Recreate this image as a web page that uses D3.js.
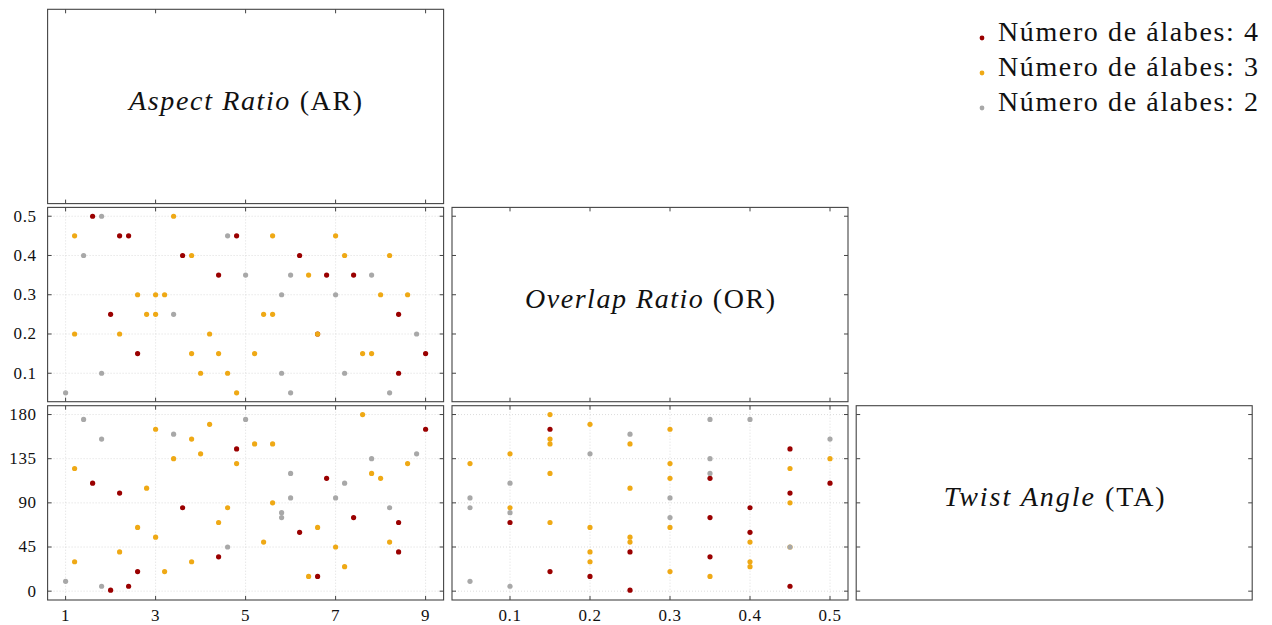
<!DOCTYPE html>
<html>
<head>
<meta charset="utf-8">
<script src="https://cdn.jsdelivr.net/npm/d3@7"></script>
<style>
  html, body { margin:0; padding:0; background:#fff; }
  svg text { font-family:"Liberation Serif", "DejaVu Serif", "Times New Roman", serif; fill:#111; }
</style>
</head>
<body>
<div id="chart"></div>
<script>
// samples as [AR, OR, TA], one list per blade count
const blades4 = [
  [4.8,0.45,145],[1.6,0.50,110],[2.2,0.45,100],[3.6,0.40,85],[4.4,0.35,35],
  [2.6,0.15,20],[2.4,0.45,5],[2.0,0.25,1],[9.0,0.15,165],[6.8,0.35,115],
  [7.4,0.35,75],[8.4,0.10,70],[6.2,0.40,60],[8.4,0.25,40],[6.6,0.20,15]
];
const blades3 = [
  [3.0,0.30,165],[4.2,0.20,170],[3.8,0.15,155],[4.0,0.10,140],[3.4,0.50,135],
  [4.8,0.05,130],[1.2,0.45,125],[2.8,0.25,105],[4.6,0.10,85],[4.4,0.15,70],
  [2.6,0.30,65],[3.0,0.25,55],[2.2,0.20,40],[1.2,0.20,30],[3.8,0.40,30],
  [3.2,0.30,20],[7.6,0.15,180],[5.2,0.15,150],[5.6,0.25,150],[8.6,0.30,130],
  [7.8,0.15,120],[8.0,0.30,115],[5.6,0.45,90],[6.6,0.20,65],[5.4,0.25,50],
  [8.2,0.40,50],[7.0,0.45,45],[7.2,0.40,25],[6.4,0.35,15]
];
const blades2 = [
  [1.4,0.40,175],[1.8,0.50,155],[3.4,0.25,160],[5.0,0.35,175],[4.6,0.45,45],
  [1.0,0.05,10],[1.8,0.10,5],[8.8,0.20,140],[7.8,0.35,135],[6.0,0.35,120],
  [7.2,0.10,110],[6.0,0.05,95],[7.0,0.30,95],[8.2,0.05,85],[5.8,0.10,80],
  [5.8,0.30,75]
];

const groups = [
  { label:"Número de álabes: 4", color:"#9a0000", data:blades4 },
  { label:"Número de álabes: 3", color:"#efa915", data:blades3 },
  { label:"Número de álabes: 2", color:"#a8a8a8", data:blades2 },
];

const varNames   = ["Aspect Ratio", "Overlap Ratio", "Twist Angle"];
const varAbbr    = ["AR", "OR", "TA"];
const varExtent  = [[1, 9], [0.05, 0.5], [0, 180]];
const varTicks   = [[1,3,5,7,9], [0.1,0.2,0.3,0.4,0.5], [0,45,90,135,180]];

const W = 1272, H = 625;
const pw = 396, ph = 194.3;
const colX = [47.6, 452, 856.2];
const rowY = [9.3, 207.4, 405.7];
const tickLen = 4;
const BORDER = "#444";
// rendered widths of the diagonal titles and legend lines in the figure
const titleLen  = [233, 250, 221];
const legendLen = 260;

const svg = d3.select("#chart").append("svg")
  .attr("width", W).attr("height", H);

// padded scales, 5% on each side
function padded(ext) {
  const p = (ext[1] - ext[0]) * 0.05;
  return [ext[0] - p, ext[1] + p];
}
const xScales = varExtent.map(e => d3.scaleLinear().domain(padded(e)).range([0, pw]));
const yScales = varExtent.map(e => d3.scaleLinear().domain(padded(e)).range([ph, 0]));

const fmt = v => (Number.isInteger(v) ? d3.format("d")(v) : d3.format(".1f")(v));

// stretch spacing only if the installed font runs narrower than the target
function fitWidth(sel, target) {
  const n = sel.node();
  if (n.getComputedTextLength() < target)
    sel.attr("textLength", target).attr("lengthAdjust", "spacing");
}

function drawPanel(row, col) {
  const g = svg.append("g")
    .attr("transform", `translate(${colX[col]},${rowY[row]})`);
  const xs = xScales[col], ys = yScales[row];
  const scatter = row > col;
  const showX = col < 2;          // column has an x axis
  const showY = row > 0;          // row has a y axis

  if (scatter) {
    // dotted grid
    g.append("g").selectAll("line")
      .data(varTicks[col]).enter().append("line")
      .attr("x1", d => xs(d)).attr("x2", d => xs(d))
      .attr("y1", 0).attr("y2", ph)
      .attr("stroke", "#d4d4d4").attr("stroke-width", 0.8)
      .attr("stroke-dasharray", "1,2");
    g.append("g").selectAll("line")
      .data(varTicks[row]).enter().append("line")
      .attr("x1", 0).attr("x2", pw)
      .attr("y1", d => ys(d)).attr("y2", d => ys(d))
      .attr("stroke", "#d4d4d4").attr("stroke-width", 0.8)
      .attr("stroke-dasharray", "1,2");

    groups.forEach(grp => {
      g.append("g").selectAll("circle")
        .data(grp.data).enter().append("circle")
        .attr("cx", d => xs(d[col]))
        .attr("cy", d => ys(d[row]))
        .attr("r", 2.6)
        .attr("fill", grp.color);
    });
  } else {
    const t = g.append("text")
      .attr("x", pw / 2).attr("y", ph / 2 + 3.5)
      .attr("text-anchor", "middle")
      .style("font-size", "28px");
    t.append("tspan").style("font-style", "italic").text(varNames[col]);
    t.append("tspan").text(` (${varAbbr[col]})`);
    fitWidth(t, titleLen[col]);
  }

  // inward ticks
  if (showX) {
    varTicks[col].forEach(v => {
      g.append("line").attr("x1", xs(v)).attr("x2", xs(v))
        .attr("y1", 0).attr("y2", tickLen).attr("stroke", BORDER);
      g.append("line").attr("x1", xs(v)).attr("x2", xs(v))
        .attr("y1", ph).attr("y2", ph - tickLen).attr("stroke", BORDER);
    });
  }
  if (showY) {
    varTicks[row].forEach(v => {
      g.append("line").attr("x1", 0).attr("x2", tickLen)
        .attr("y1", ys(v)).attr("y2", ys(v)).attr("stroke", BORDER);
      g.append("line").attr("x1", pw).attr("x2", pw - tickLen)
        .attr("y1", ys(v)).attr("y2", ys(v)).attr("stroke", BORDER);
    });
  }

  // tick labels only on outer edges
  if (col === 0 && showY) {
    g.append("g").selectAll("text")
      .data(varTicks[row]).enter().append("text")
      .attr("x", -11).attr("y", d => ys(d) + 5.5)
      .attr("text-anchor", "end")
      .style("font-size", "17px")
      .style("letter-spacing", "0.6px")
      .text(fmt);
  }
  if (row === 2 && showX) {
    g.append("g").selectAll("text")
      .data(varTicks[col]).enter().append("text")
      .attr("x", d => xs(d)).attr("y", ph + 21)
      .attr("text-anchor", "middle")
      .style("font-size", "17px")
      .style("letter-spacing", "0.6px")
      .text(fmt);
  }

  g.append("rect")
    .attr("width", pw).attr("height", ph)
    .attr("fill", "none")
    .attr("stroke", BORDER).attr("stroke-width", 1.1);
}

for (let r = 0; r < 3; r++)
  for (let c = 0; c <= r; c++) drawPanel(r, c);

// legend
const legend = svg.append("g").attr("transform", "translate(982,41)");
groups.forEach((grp, i) => {
  const row = legend.append("g").attr("transform", `translate(0,${i * 35})`);
  row.append("circle").attr("cx", 0).attr("cy", -3).attr("r", 2.4).attr("fill", grp.color);
  const t = row.append("text")
    .attr("x", 16).attr("y", 0)
    .style("font-size", "28px")
    .text(grp.label);
  fitWidth(t, legendLen);
});
</script>
</body>
</html>
